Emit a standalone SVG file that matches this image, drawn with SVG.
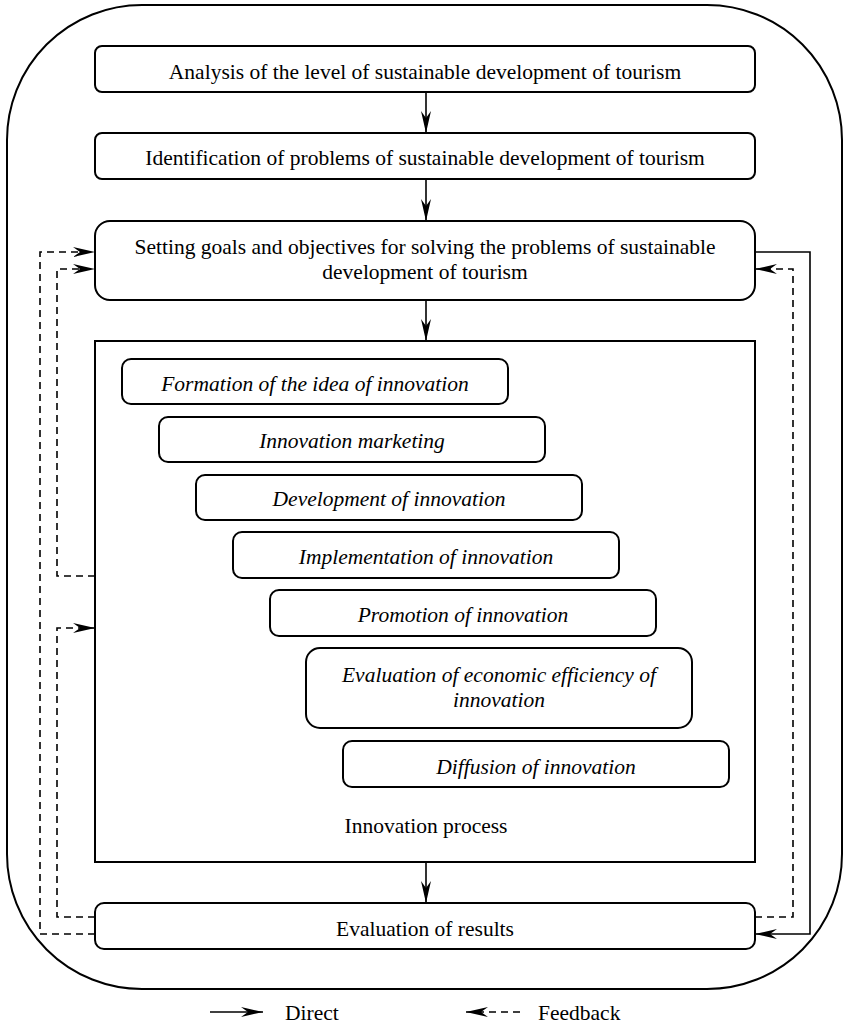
<svg xmlns="http://www.w3.org/2000/svg" width="847" height="1024" viewBox="0 0 847 1024">
<style>
.box{fill:#fff;stroke:#000;stroke-width:2}
.t{font-family:"Liberation Serif","Times New Roman",serif;font-size:21.5px;fill:#000;text-anchor:middle}
.i{font-style:italic}
.c{fill:none;stroke:#000;stroke-width:1.6}
.d{stroke-dasharray:7 5}
</style>
<defs>
<marker id="ah" viewBox="0 0 22 10" refX="22" refY="5" markerWidth="22" markerHeight="10" markerUnits="userSpaceOnUse" orient="auto">
<path d="M0,0 L22,5 L0,10 L7,5 z" fill="#000"/>
</marker>
</defs>
<rect x="7" y="5" width="835" height="984" rx="135" ry="135" fill="none" stroke="#000" stroke-width="2"/>
<g id="n1"><rect class="box" x="95" y="46" width="660" height="46" rx="7"/><text class="t" x="425" y="79">Analysis of the level of sustainable development of tourism</text></g>
<g id="n2"><rect class="box" x="95" y="133" width="660" height="46" rx="7"/><text class="t" x="425" y="165">Identification of problems of sustainable development of tourism</text></g>
<g id="n3"><rect class="box" x="95" y="221" width="660" height="79" rx="15"/><text class="t" x="425" y="254">Setting goals and objectives for solving the problems of sustainable</text><text class="t" x="425" y="279">development of tourism</text></g>
<g id="process"><rect x="95" y="341" width="660" height="521" fill="#fff" stroke="#000" stroke-width="2"/><text class="t" x="426" y="833">Innovation process</text></g>
<g id="s1"><rect class="box" x="122" y="359" width="386" height="45" rx="9"/><text class="t i" x="315" y="391">Formation of the idea of innovation</text></g>
<g id="s2"><rect class="box" x="159" y="417" width="386" height="45" rx="9"/><text class="t i" x="352" y="448">Innovation marketing</text></g>
<g id="s3"><rect class="box" x="196" y="475" width="386" height="45" rx="9"/><text class="t i" x="389" y="506">Development of innovation</text></g>
<g id="s4"><rect class="box" x="233" y="532" width="386" height="46" rx="9"/><text class="t i" x="426" y="564">Implementation of innovation</text></g>
<g id="s5"><rect class="box" x="270" y="590" width="386" height="46" rx="9"/><text class="t i" x="463" y="622">Promotion of innovation</text></g>
<g id="s6"><rect class="box" x="306" y="648" width="386" height="80" rx="14"/><text class="t i" x="499" y="682">Evaluation of economic efficiency of</text><text class="t i" x="499" y="707">innovation</text></g>
<g id="s7"><rect class="box" x="343" y="741" width="386" height="46" rx="9"/><text class="t i" x="536" y="774">Diffusion of innovation</text></g>
<g id="n4"><rect class="box" x="95" y="903" width="660" height="46" rx="9"/><text class="t" x="425" y="936">Evaluation of results</text></g>
<g id="connectors">
<path class="c" d="M426,92 V133" marker-end="url(#ah)"/>
<path class="c" d="M426,179 V221" marker-end="url(#ah)"/>
<path class="c" d="M426,300 V341" marker-end="url(#ah)"/>
<path class="c" d="M426,862 V903" marker-end="url(#ah)"/>
<path class="c" d="M755,252 H810 V934 H755" marker-end="url(#ah)"/>
<path class="c d" d="M755,917 H793 V269 H755" marker-end="url(#ah)"/>
<path class="c d" d="M95,934 H40 V252 H95" marker-end="url(#ah)"/>
<path class="c d" d="M95,576 H57 V269 H95" marker-end="url(#ah)"/>
<path class="c d" d="M95,917 H57 V628 H95" marker-end="url(#ah)"/>
</g>
<g id="legend">
<path class="c" d="M210,1012 H263" marker-end="url(#ah)"/>
<text class="t" x="285" y="1020" style="text-anchor:start">Direct</text>
<path class="c d" d="M520,1012 H466" marker-end="url(#ah)"/>
<text class="t" x="538" y="1020" style="text-anchor:start">Feedback</text>
</g>
</svg>
